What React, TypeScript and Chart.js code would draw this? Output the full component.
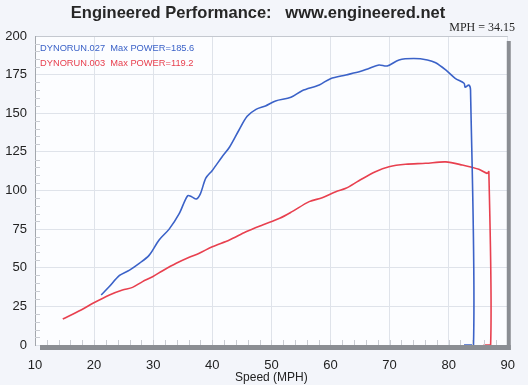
import React, { useEffect, useRef } from "react";
import { Chart, registerables } from "chart.js";

Chart.register(...registerables);

const titleText = "Engineered Performance:   www.engineered.net";
const mphText = "MPH = 34.15";
const blueLabel = "DYNORUN.027  Max POWER=185.6";
const redLabel = "DYNORUN.003  Max POWER=119.2";

const blueSpeed = [21.2, 22.5, 24.3, 26.0, 27.7, 29.3, 31.0, 32.7, 34.4, 35.8, 36.5, 37.3, 38.0, 38.9, 40.0, 41.7, 42.9, 44.5, 45.9, 47.4, 49.0, 50.7, 53.3, 55.2, 58.1, 60.0, 62.6, 65.0, 66.5, 68.2, 69.6, 71.6, 74.1, 76.4, 77.8, 79.5, 81.1, 82.6, 82.8, 83.4, 83.7, 84.2, 82.6];
const bluePower = [32.4, 37.5, 45, 48.5, 53, 58, 68, 75, 85, 96.5, 96, 94.5, 98, 108, 113, 122, 128, 139, 148, 152.5, 154.7, 158, 160.3, 164.6, 168.3, 172.4, 174.8, 177, 179, 181.2, 180.6, 184.5, 185.4, 184.5, 182.7, 178, 172.6, 169.4, 166.8, 168.3, 165, 0, 0];

const redSpeed = [14.7, 17.8, 19.8, 22.6, 24.8, 26.5, 28.2, 29.9, 31.6, 33.9, 36.1, 37.8, 40.0, 42.9, 45.7, 48.5, 51.4, 53.5, 56.4, 58.6, 60.9, 62.6, 64.8, 67.6, 69.9, 72.7, 76.1, 79.5, 82.3, 85.1, 86.5, 86.8, 87.1, 85.9];
const redPower = [16.8, 22.6, 27, 32.4, 35.6, 37.3, 41, 44.2, 48.1, 52.9, 56.8, 59.4, 63.6, 68, 73.3, 77.7, 82, 86.3, 92.8, 95.3, 99.2, 101.4, 106.3, 112.2, 115.4, 117, 117.6, 118.5, 116.5, 113.7, 111.1, 112.2, 0, 0];

const BLUE = "#3b62c8";
const RED = "#e8404f";
const SANS = "'Liberation Sans', Arial, sans-serif";

const decorPlugin = {
  id: "decor",
  beforeDraw(chart: any) {
    const { ctx, chartArea } = chart;
    ctx.save();
    ctx.fillStyle = "#f3f5fa";
    ctx.fillRect(0, 0, chart.width, chart.height);
    ctx.fillStyle = "#fcfdff";
    ctx.fillRect(chartArea.left, chartArea.top, chartArea.right - chartArea.left, chartArea.bottom - chartArea.top);
    ctx.restore();
  },
  afterDatasetsDraw(chart: any) {
    const { ctx, chartArea, scales } = chart;
    const { left, right, top, bottom } = chartArea;
    ctx.save();
    // minor ticks on y axis
    ctx.strokeStyle = "#c9ccd2";
    ctx.lineWidth = 1;
    for (let v = 5; v < 200; v += 5) {
      if (v % 25 === 0) continue;
      const y = Math.round(scales.y.getPixelForValue(v)) + 0.5;
      ctx.beginPath();
      ctx.moveTo(left, y);
      ctx.lineTo(left + 5, y);
      ctx.stroke();
    }
    for (let v = 12; v < 90; v += 2) {
      const x = Math.round(scales.x.getPixelForValue(v)) + 0.5;
      ctx.beginPath();
      ctx.moveTo(x, bottom);
      ctx.lineTo(x, bottom - 5);
      ctx.stroke();
    }
    // gray shadow bars
    ctx.fillStyle = "#8b8e93";
    ctx.fillRect(left + 5, bottom, right - left - 2, 5);
    ctx.fillRect(right - 1, top + 5, 4, bottom - top);
    // legend texts
    ctx.font = "9.3px " + SANS;
    ctx.textBaseline = "middle";
    ctx.textAlign = "left";
    ctx.fillStyle = BLUE;
    ctx.fillText(blueLabel, left + 5, top + 12);
    ctx.fillStyle = RED;
    ctx.fillText(redLabel, left + 5, top + 27);
    // title
    ctx.fillStyle = "#262626";
    ctx.font = "bold 16.5px " + SANS;
    ctx.textAlign = "center";
    ctx.fillText(titleText, 258, 13);
    ctx.font = "12px 'Liberation Serif', 'Times New Roman', serif";
    ctx.textAlign = "right";
    ctx.fillText(mphText, 515, 28);
    ctx.restore();
  },
};

export default function App() {
  const ref = useRef<HTMLCanvasElement | null>(null);
  useEffect(() => {
    document.body.style.margin = "0";
    const canvas = ref.current!;
    const chart = new Chart(canvas, {
      type: "scatter",
      data: {
        datasets: [
          {
            label: blueLabel,
            data: blueSpeed.map((x, i) => ({ x, y: bluePower[i] })),
            showLine: true,
            borderColor: BLUE,
            backgroundColor: BLUE,
            borderWidth: 1.6,
            pointRadius: 0,
            tension: 0.3,
          },
          {
            label: redLabel,
            data: redSpeed.map((x, i) => ({ x, y: redPower[i] })),
            showLine: true,
            borderColor: RED,
            backgroundColor: RED,
            borderWidth: 1.6,
            pointRadius: 0,
            tension: 0.3,
          },
        ],
      },
      options: {
        responsive: false,
        animation: false,
        layout: { padding: { top: 36, right: 19, left: 0, bottom: 0 } },
        plugins: { legend: { display: false }, tooltip: { enabled: false }, title: { display: false } },
        scales: {
          x: {
            type: "linear",
            min: 10,
            max: 90,
            afterFit: (s: any) => { s.height = 40; },
            ticks: { stepSize: 10, padding: 13, color: "#222", font: { family: SANS, size: 13 } },
            grid: { color: "#dfe3ea", drawTicks: false },
            border: { display: false },
            title: { display: true, text: "Speed (MPH)", color: "#222", padding: 0, font: { family: SANS, size: 12 } },
          },
          y: {
            min: 0,
            max: 200,
            afterFit: (s: any) => { s.width = 35; },
            ticks: { stepSize: 25, padding: 8, color: "#222", font: { family: SANS, size: 13 } },
            grid: { color: (c: any) => (c.tick && c.tick.value === 200 ? "#c4c8cf" : "#dfe3ea"), drawTicks: false },
            border: { display: true, color: "#a3a7ad" },
          },
        },
      },
      plugins: [decorPlugin],
    });
    return () => chart.destroy();
  }, []);
  return (
    <div style={{ position: "fixed", left: 0, top: 0, width: 528, height: 385 }}>
      <canvas ref={ref} width={528} height={385} />
    </div>
  );
}
